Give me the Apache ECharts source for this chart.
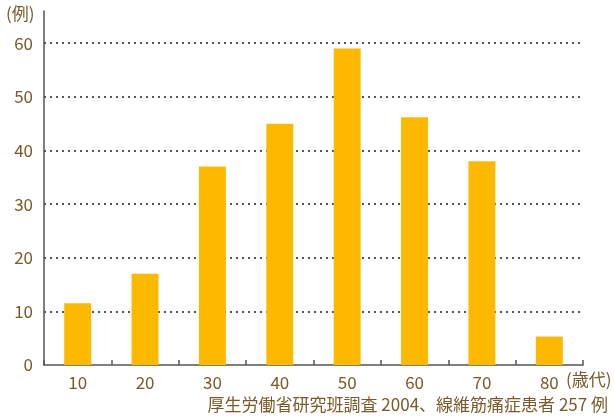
<!DOCTYPE html>
<html>
<head>
<meta charset="utf-8">
<script src="https://cdn.jsdelivr.net/npm/echarts@6/dist/echarts.min.js"></script>
<style>
  html, body { margin: 0; padding: 0; background: #fff; }
  #chart { width: 614px; height: 420px; }
</style>
</head>
<body>
<div id="chart"></div>
<script>
// 年代別の患者数
var ageGroups = ['10', '20', '30', '40', '50', '60', '70', '80'];
var patientCounts = [11.5, 17, 37, 45, 59, 46.2, 38, 5.3];
var yTicks = [0, 10, 20, 30, 40, 50, 60];

var labelColor = '#7a5a28';
var font = '"Noto Sans CJK JP", "Noto Sans", sans-serif';

var chart = echarts.init(document.getElementById('chart'));
var option = {
    animation: false,
    grid: {
        left: 44,
        right: 31,
        top: 11,
        bottom: 55
    },
    xAxis: {
        type: 'category',
        data: ageGroups,
        axisLine: { lineStyle: { color: '#555', width: 1.5 } },
        axisTick: { show: true, inside: true, length: 5, lineStyle: { color: '#555', width: 1.5 } },
        axisLabel: { color: labelColor, fontSize: 17, fontFamily: font, margin: 9 }
    },
    yAxis: {
        type: 'value',
        min: 0,
        max: 66,
        interval: 10,
        axisLine: { show: true, lineStyle: { color: '#555', width: 1.5 } },
        axisTick: { show: false },
        axisLabel: {
            color: labelColor, fontSize: 17, fontFamily: font, margin: 11,
            formatter: function (v) {
                return yTicks.indexOf(v) >= 0 ? String(v) : '';
            }
        },
        splitLine: {
            show: true,
            showMinLine: false,
            showMaxLine: false,
            lineStyle: { color: '#555', width: 2, type: [2, 4] }
        }
    },
    series: [{
        type: 'bar',
        data: patientCounts,
        barWidth: '40%',
        itemStyle: { color: '#fdb900' }
    }],
    graphic: [
        {
            type: 'text', left: 6, top: 5,
            style: { text: '(例)', fill: labelColor, font: '17px ' + font }
        },
        {
            type: 'text', left: 566, top: 371,
            style: { text: '(歳代)', fill: labelColor, font: '17px ' + font }
        },
        {
            type: 'text', right: 6, top: 396,
            style: { text: '厚生労働省研究班調査 2004、線維筋痛症患者 257 例', fill: labelColor, font: '17px ' + font }
        }
    ]
};
chart.setOption(option);
</script>
</body>
</html>
